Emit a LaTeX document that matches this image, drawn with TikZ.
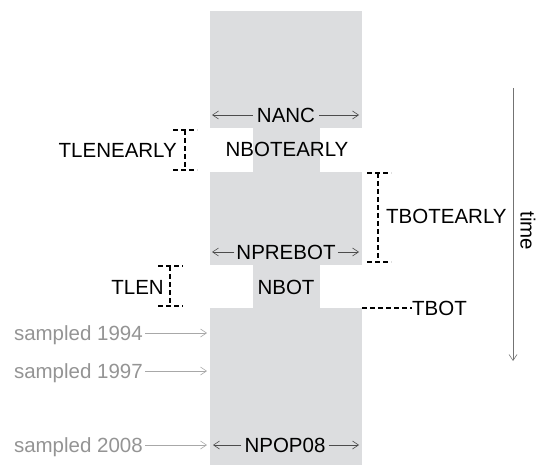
\documentclass[tikz,border=0pt]{standalone}
\usepackage{fontspec}
\setmainfont{Liberation Sans}
\usetikzlibrary{arrows.meta}
\definecolor{popgray}{rgb}{0.863, 0.867, 0.875}
\definecolor{samplegray}{rgb}{0.58, 0.58, 0.58}
\definecolor{samplearrow}{rgb}{0.66, 0.66, 0.66}
\definecolor{timegray}{rgb}{0.45, 0.45, 0.45}
\definecolor{sizegray}{rgb}{0.3, 0.3, 0.3}
\tikzstyle{lbl} = [inner sep=0pt,text height=15pt,text depth=0pt,font=\fontsize{20.5}{24}\selectfont]
\tikzstyle{popsize} = [lbl,inner sep=4pt]
\tikzstyle{samp} = [lbl,text=samplegray]
\tikzstyle{thinarrow} = [-{Straight Barb[length=6pt,width=8pt,line width=0.6pt]},line width=0.6pt]
\tikzstyle{bracket} = [line width=1.6pt,dash pattern=on 5pt off 3pt]

\begin{document}
\begin{tikzpicture}[x=1pt,y=-1pt]
		\useasboundingbox (0,0) rectangle (538,465);
		% population blocks
		\fill[popgray] (210,11) rectangle (362,128);
		\fill[popgray] (253,128) rectangle (320,172);
		\fill[popgray] (210,172) rectangle (362,265);
		\fill[popgray] (253,265) rectangle (320,308);
		\fill[popgray] (210,308) rectangle (362,465);
		
		\node [popsize](nanc) at (286,115){NANC};
		\node [lbl](nbotearly) at (287,149){NBOTEARLY};
		\node [popsize,inner sep=2pt](nprebot) at (286,252){NPREBOT};
		\node [lbl](nbot) at (286,287){NBOT};
		\node [popsize,inner sep=3pt](npop) at (285,445){NPOP08};
		
		\draw[thinarrow,sizegray](nanc.west)--(212,115);
		\draw[thinarrow,sizegray](nanc.east)--(359,115);
		\draw[thinarrow,sizegray](nprebot.west)--(212,252);
		\draw[thinarrow,sizegray](nprebot.east)--(359,252);
		\draw[thinarrow,sizegray](npop.west)--(213,445);
		\draw[thinarrow,sizegray](npop.east)--(359,445);
		
		% samples
		\node [samp,anchor=east](s94) at (143,333){sampled 1994};
		\node [samp,anchor=east](s97) at (143,371){sampled 1997};
		\node [samp,anchor=east](s08) at (143,445){sampled 2008};
		\draw[thinarrow,samplearrow](s94.east)++(2,0)--(207,333);
		\draw[thinarrow,samplearrow](s97.east)++(2,0)--(207,371);
		\draw[thinarrow,samplearrow](s08.east)++(2,0)--(207,445);
		
		% time lengths
		\node [lbl,anchor=east](tlenearly) at (177,150){TLENEARLY};
		\draw[bracket](173,130)--(197,130) (185,130)--(185,170) (173,170)--(197,170);
		\node [lbl,anchor=east](tlen) at (164,287){TLEN};
		\draw[bracket](158,266)--(183,266) (170,266)--(170,306) (158,306)--(183,306);
		\node [lbl,anchor=west](tbotearly) at (386,216){TBOTEARLY};
		\draw[bracket](367,173)--(391,173) (378,173)--(378,262) (367,262)--(391,262);
		\node [lbl,anchor=west](tbot) at (412,308){TBOT};
		\draw[line width=1.6pt,dash pattern=on 5pt off 3pt](362,308)--(tbot.west);
		
		% time axis
		\coordinate (t0) at (513,88);
		\coordinate (t1) at (513,361);
		\draw[thinarrow,timegray](t0)--(t1);
		\node [lbl,rotate=-90](time) at (528,231){time};
		\end{tikzpicture}
\end{document}
